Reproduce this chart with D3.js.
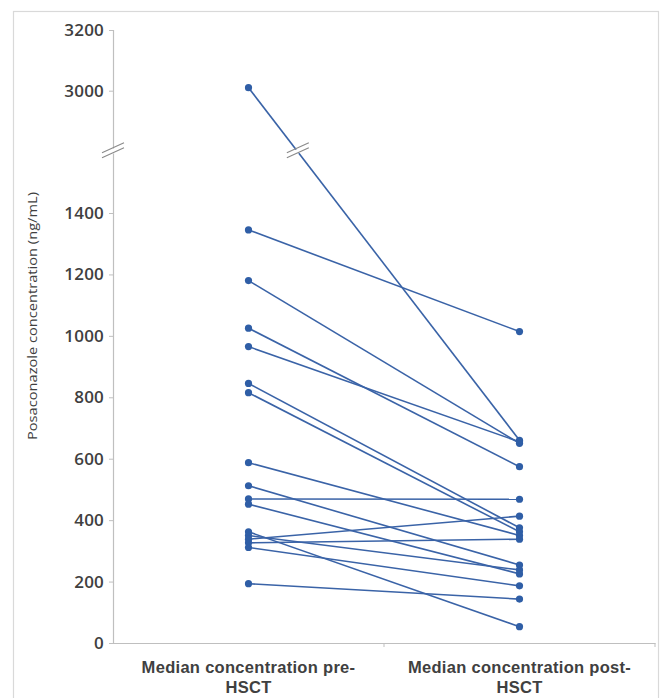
<!DOCTYPE html>
<html>
<head>
<meta charset="utf-8">
<script src="https://cdn.jsdelivr.net/npm/d3@7/dist/d3.min.js"></script>
<style>
  html, body { margin: 0; padding: 0; background: #fff; }
  svg { display: block; }
</style>
</head>
<body>
<svg id="chart" width="662" height="698"></svg>
<script>
// Paired median posaconazole concentrations (ng/mL), one line per patient
const categories = ["Median concentration pre-HSCT", "Median concentration post-HSCT"];
const categoryLines = [["Median concentration pre-", "HSCT"], ["Median concentration post-", "HSCT"]];
const preValues  = [3010, 1345, 1180, 1025, 965, 845, 815, 587, 512, 469, 452, 362, 350, 338, 326, 311, 193];
const postValues = [ 660, 1014,  650,  574, 655, 375, 362, 350, 254, 468, 225,  53, 238, 413, 338, 186, 143];
const lowerTicks = [0, 200, 400, 600, 800, 1000, 1200, 1400];
const upperTicks = [3000, 3200];
const yTitle = "Posaconazole concentration (ng/mL)";

const svg = d3.select("#chart");
const plotLeft = 113, plotRight = 655, plotTop = 30, plotBottom = 643;
const lineColor = "#3a63a7", dotColor = "#2f5ea6", axisColor = "#bfbfbf", textColor = "#404040";

// Outer chart frame
svg.append("rect")
  .attr("x", 13.5).attr("y", 11.5).attr("width", 645).attr("height", 700)
  .attr("fill", "none").attr("stroke", "#d9d9d9").attr("stroke-width", 1.2);

// Broken value axis: 0–1400 below the break, 3000–3200 above it, same px per unit
const y = d3.scaleLinear()
  .domain([0, 1400, 3000, 3200])
  .range([plotBottom, 213, 90.7, plotTop]);
const breakY = (y(1400) + y(3000)) / 2;

const x = d3.scaleBand().domain(categories).range([plotLeft, plotRight]);
const cx = c => x(c) + x.bandwidth() / 2;

// Y axis
const yAxis = d3.axisLeft(y).tickValues(lowerTicks.concat(upperTicks)).tickSize(4).tickPadding(5).tickFormat(d3.format("d"));
const gy = svg.append("g").attr("transform", `translate(${plotLeft},0)`).call(yAxis);
gy.select(".domain").attr("stroke", axisColor).attr("stroke-width", 1.2);
gy.selectAll(".tick line").attr("stroke", axisColor);
gy.selectAll(".tick text")
  .attr("fill", textColor)
  .style("font-family", "'Open Sans', sans-serif")
  .style("font-size", "17px")
  .style("font-weight", "600")
  .style("letter-spacing", "0.2px");

// X axis
const xAxis = d3.axisBottom(x).tickSize(0).tickFormat("");
const gx = svg.append("g").attr("transform", `translate(0,${plotBottom})`).call(xAxis);
gx.select(".domain").attr("stroke", axisColor).attr("stroke-width", 1.2);
gx.selectAll(".tick").remove();
// category boundary ticks
[plotLeft + x.bandwidth(), plotRight].forEach(px => {
  gx.append("line").attr("x1", px).attr("x2", px).attr("y1", 0).attr("y2", 4)
    .attr("stroke", axisColor);
});

// Category labels (two lines each)
categories.forEach((c, i) => {
  const t = svg.append("text")
    .attr("x", cx(c)).attr("y", 673)
    .attr("text-anchor", "middle")
    .attr("fill", textColor)
    .style("font-family", "'Liberation Sans', Arial, sans-serif")
    .style("font-size", "16.5px")
    .style("font-weight", "bold")
    .style("letter-spacing", "0.3px");
  categoryLines[i].forEach((line, k) => {
    t.append("tspan").attr("x", cx(c)).attr("dy", k === 0 ? 0 : 20).text(line);
  });
});

// Y axis title
svg.append("text")
  .attr("transform", `translate(37,316) rotate(-90)`)
  .attr("text-anchor", "middle")
  .attr("fill", textColor)
  .attr("textLength", 248)
  .attr("lengthAdjust", "spacingAndGlyphs")
  .style("font-family", "'Open Sans', sans-serif")
  .style("font-size", "13.5px")
  .text(yTitle);

// Patient lines
const pairs = preValues.map((v, i) => ({ pre: v, post: postValues[i] }));
const gLines = svg.append("g");
pairs.forEach(p => {
  gLines.append("line")
    .attr("x1", cx(categories[0])).attr("y1", y(p.pre))
    .attr("x2", cx(categories[1])).attr("y2", y(p.post))
    .attr("stroke", lineColor).attr("stroke-width", 1.6);
});

// Break marks: on the axis and on any line crossing the break
function breakMark(px, py) {
  const g = svg.append("g").attr("transform", `translate(${px},${py})`);
  g.append("path").attr("d", "M-11,4 L11,-6 L11,-1 L-11,9 Z").attr("fill", "#fff");
  g.append("path").attr("d", "M-11,3 L11,-7 M-11,8 L11,-2").attr("stroke", "#8a8a8a").attr("stroke-width", 1.1);
}
breakMark(plotLeft, breakY - 2);
pairs.forEach(p => {
  const y1 = y(p.pre), y2 = y(p.post);
  if (y1 < breakY && y2 > breakY) {
    const x1 = cx(categories[0]), x2 = cx(categories[1]);
    const t = (breakY - y1) / (y2 - y1);
    breakMark(x1 + t * (x2 - x1), breakY - 2);
  }
});

// Markers
const gDots = svg.append("g");
pairs.forEach(p => {
  gDots.append("circle").attr("cx", cx(categories[0])).attr("cy", y(p.pre)).attr("r", 3.6).attr("fill", dotColor);
  gDots.append("circle").attr("cx", cx(categories[1])).attr("cy", y(p.post)).attr("r", 3.6).attr("fill", dotColor);
});
</script>
</body>
</html>
